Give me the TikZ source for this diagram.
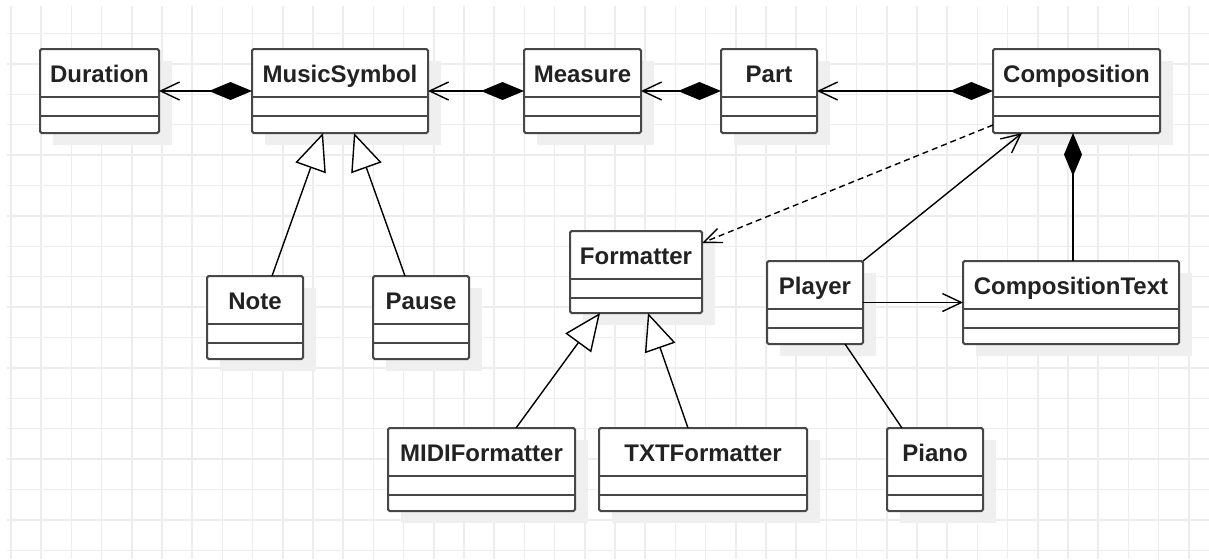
\documentclass[tikz,border=0pt]{standalone}
\usepackage{fontspec}
\setmainfont{Liberation Sans}
\usetikzlibrary{arrows.meta,fit}

\definecolor{gridc}{HTML}{EDEDED}
\definecolor{shadowc}{HTML}{EFEFEF}
\definecolor{borderc}{HTML}{474747}
\definecolor{textc}{HTML}{222222}

\tikzset{
  gridline/.style={draw=gridc, line width=0.75pt},
  classbox/.style={draw=borderc, fill=white, line width=1pt, rounded corners=0.8pt,
                   inner sep=0pt, outer sep=0pt},
  divider/.style={draw=borderc, line width=1pt},
  classname/.style={anchor=base, inner sep=0pt, text=textc, font=\bfseries\fontsize{12}{14}\selectfont},
  conn/.style={draw=black, line width=0.7pt},
  assoc/.style={-{Straight Barb[length=9.5pt,width=9pt]}},
  compose/.style={{Diamond[length=21.5pt,width=9pt,fill=black]}-{Straight Barb[length=9.5pt,width=9pt]}},
  composeonly/.style={{Diamond[length=21.5pt,width=9pt,fill=black]}-},
  inherit/.style={-{Triangle[length=18.5pt,width=16pt,fill=white]}},
  depend/.style={dash pattern=on 3pt off 2pt, -{Straight Barb[length=9pt,width=7.5pt]}},
}

% class box: name, x1, y1, x2, y2, title
\newcommand\umlclass[6]{%
  \fill[shadowc] (#2+13,#3+12) rectangle (#4+13,#5+12);
  \node[classbox, fit={(#2,#3) (#4,#5)}] (#1) {};
  \draw[divider] ([yshift=-23.75pt]#1.north west) -- ([yshift=-23.75pt]#1.north east);
  \draw[divider] ([yshift=-33.25pt]#1.north west) -- ([yshift=-33.25pt]#1.north east);
  \node[classname] (#1-name) at ([yshift=-16.5pt]#1.north) {#6};
}

\begin{document}
\begin{tikzpicture}[x=0.5pt, y=-0.5pt]
  \useasboundingbox[fill=white] (0,0) rectangle (1209,559);

  % background grid
  \foreach \i in {0,...,39} \draw[gridline] (11+30.2*\i,6) -- (11+30.2*\i,559);
  \foreach \j in {0,...,17} \draw[gridline] (7,33.5+30.4*\j) -- (1209,33.5+30.4*\j);

  % classes
  \umlclass{dur}{40}{49}{159}{133}{Duration}
  \umlclass{ms}{252}{49}{428}{133}{MusicSymbol}
  \umlclass{meas}{524}{49}{641}{133}{Measure}
  \umlclass{part}{721}{49}{817}{133}{Part}
  \umlclass{comp}{993}{49}{1160}{133}{Composition}
  \umlclass{note}{207}{276}{303}{359}{Note}
  \umlclass{pause}{373}{276}{469}{359}{Pause}
  \umlclass{fmt}{570}{231}{702}{313}{Formatter}
  \umlclass{player}{767}{261}{863}{344}{Player}
  \umlclass{ctext}{963}{261}{1179}{344}{CompositionText}
  \umlclass{midi}{388}{428}{575}{511}{MIDIFormatter}
  \umlclass{txt}{599}{428}{807}{511}{TXTFormatter}
  \umlclass{piano}{887}{428}{983}{511}{Piano}

  % composition chain
  \draw[conn, compose] (ms.west) -- (dur.east);
  \draw[conn, compose] (meas.west) -- (ms.east);
  \draw[conn, compose] (part.west) -- (meas.east);
  \draw[conn, compose] (comp.west) -- (part.east);
  \draw[conn, composeonly] ([xshift=-1.75pt]comp.south) -- ([xshift=1pt]ctext.north);

  % generalizations
  \draw[conn, inherit] ([xshift=8.5pt]note.north) -- ([xshift=-8.5pt]ms.south);
  \draw[conn, inherit] ([xshift=-8pt]pause.north) -- ([xshift=7pt]ms.south);
  \draw[conn, inherit] ([xshift=17.25pt]midi.north) -- ([xshift=-18pt]fmt.south);
  \draw[conn, inherit] ([xshift=-7.5pt]txt.north) -- ([xshift=6pt]fmt.south);

  % dependency and associations
  \draw[conn, depend] ([yshift=-17pt]comp.west) -- ([yshift=14.5pt]fmt.east);
  \draw[conn, assoc] (player.north east) -- ([xshift=-27.25pt]comp.south);
  \draw[conn, assoc] (player.east) -- (ctext.west);
  \draw[conn] ([xshift=15pt]player.south) -- ([xshift=-16.5pt]piano.north);
\end{tikzpicture}
\end{document}
